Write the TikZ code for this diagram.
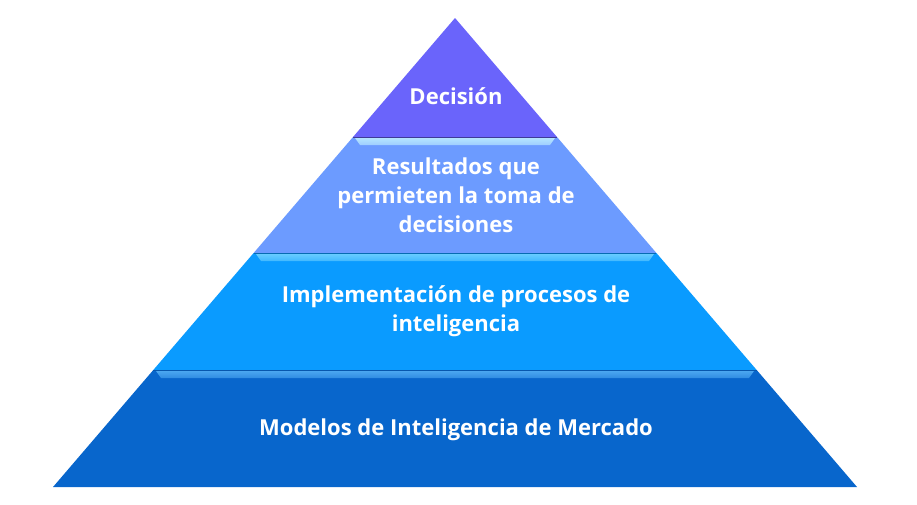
\documentclass[tikz,border=0pt]{standalone}
\usepackage{fontspec}
\setmainfont{Open Sans}
\definecolor{capaA}{HTML}{6A64FB}
\definecolor{capaB}{HTML}{6C9BFF}
\definecolor{capaC}{HTML}{0A9BFF}
\definecolor{capaD}{HTML}{0866CC}
\definecolor{brilloB}{HTML}{B4E4FF}
\definecolor{brilloC}{HTML}{66CCFF}
\definecolor{brilloD}{HTML}{4AA6F0}
\tikzset{texto/.style={text=white, font=\bfseries\fontsize{22}{29}\selectfont, align=center}}

\begin{document}
\begin{tikzpicture}[x=1pt,y=-1pt]
\useasboundingbox (0,0) rectangle (917,504);
% capas de la piramide
\fill[capaA] (455,18)--(353,137)--(557,137)--cycle;
\fill[capaB] (353,137)--(253.6,253)--(656.4,253)--(557,137)--cycle;
\fill[capaC] (253.6,253)--(153.3,370)--(756.7,370)--(656.4,253)--cycle;
\fill[capaD] (153.3,370)--(53,487)--(857,487)--(756.7,370)--cycle;
% bordes
\draw[capaA!60!black, line width=.8pt] (353,137)--(557,137);
\draw[capaC!70!black, line width=.8pt] (253.6,253)--(656.4,253);
\draw[capaD!85!black, line width=.8pt] (153.3,370)--(756.7,370);
% brillos
\shade[top color=brilloB, bottom color=brilloB!70!capaB] (355,138)--(555,138)--(550,145)--(360,145)--cycle;
\shade[top color=brilloC, bottom color=brilloC!60!capaC] (256,254)--(654,254)--(649,261)--(261,261)--cycle;
\shade[top color=brilloD, bottom color=brilloD!60!capaD] (156,371)--(754,371)--(749,378)--(161,378)--cycle;
% textos
\node[texto] (decision) at (456,96) {Decisión};
\node[texto] (resultados) at (456,195) {Resultados que\\permieten la toma de\\decisiones};
\node[texto] (procesos) at (456,311) {Implementación de procesos de\\inteligencia};
\node[texto] (modelos) at (456,430) {Modelos de Inteligencia de Mercado};
\end{tikzpicture}
\end{document}
